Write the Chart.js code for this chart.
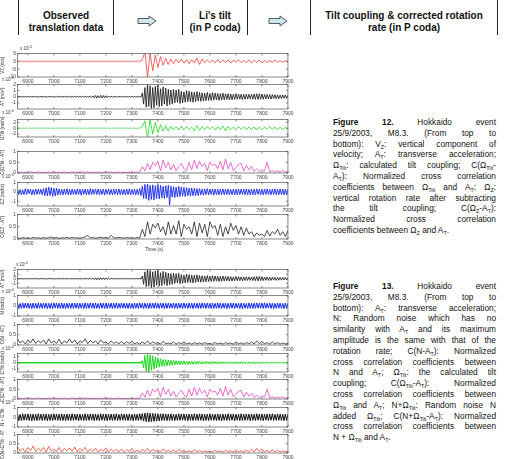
<!DOCTYPE html>
<html><head><meta charset="utf-8">
<script src="https://cdn.jsdelivr.net/npm/chart.js@4.4.1/dist/chart.umd.min.js"></script>
<style>
html,body{margin:0;padding:0;background:#fff;width:512px;height:459px;overflow:hidden;position:relative;font-family:"Liberation Sans",Arial,sans-serif;}
.hbox{position:absolute;top:0;height:35px;border-left:1px solid #222;border-right:1px solid #222;text-align:center;font-weight:bold;font-size:10px;line-height:12px;padding-top:10px;box-sizing:border-box;color:#111;white-space:nowrap}
.cap{position:absolute;left:333px;width:163px;font-size:8.3px;line-height:10.8px;color:#111}
.cap div{text-align:justify;text-align-last:justify;height:10.8px}
.cap div.last{text-align:left;text-align-last:left}
sub{font-size:65%;vertical-align:-1.5px;line-height:0}
.ex{position:absolute;font-size:4.5px;color:#333;white-space:nowrap}
.ex sup{font-size:80%;vertical-align:2px;line-height:0}
.tl{position:absolute;font-size:5px;color:#333;white-space:nowrap}
</style></head><body>
<div class="hbox" style="left:18px;width:96px">Observed<br>translation data</div>
<div class="hbox" style="left:182px;width:66px">Li's tilt<br>(in P coda)</div>
<div class="hbox" style="left:310px;width:188px">Tilt coupling &amp; corrected rotation<br>rate (in P coda)</div>
<svg style="position:absolute;left:137px;top:15px" width="21" height="12"><polygon points="1,3.5 12,3.5 12,1 19,6 12,11 12,8.5 1,8.5" fill="#cde6ee" stroke="#333" stroke-width="0.8"/></svg>
<svg style="position:absolute;left:268px;top:15px" width="21" height="12"><polygon points="1,3.5 12,3.5 12,1 19,6 12,11 12,8.5 1,8.5" fill="#cde6ee" stroke="#333" stroke-width="0.8"/></svg>

<div class="cap" style="top:117px">
<div><b>Figure 12.</b> Hokkaido event</div>
<div>25/9/2003, M8.3. (From top to</div>
<div>bottom): V<sub>Z</sub>: vertical component of</div>
<div>velocity; A<sub>T</sub>: transverse acceleration;</div>
<div>Ω<sub>Tilt</sub>: calculated tilt coupling; C(Ω<sub>Tilt</sub>-</div>
<div>A<sub>T</sub>): Normalized cross correlation</div>
<div>coefficients between Ω<sub>Tilt</sub> and A<sub>T</sub>; Ω<sub>Z</sub>:</div>
<div>vertical rotation rate after subtracting</div>
<div>the tilt coupling; C(Ω<sub>Z</sub>-A<sub>T</sub>):</div>
<div>Normalized cross correlation</div>
<div class="last">coefficients between Ω<sub>Z</sub> and A<sub>T</sub>.</div>
</div>

<div class="cap" style="top:281px">
<div><b>Figure 13.</b> Hokkaido event</div>
<div>25/9/2003, M8.3. (From top to</div>
<div>bottom): A<sub>T</sub>: transverse acceleration;</div>
<div>N: Random noise which has no</div>
<div>similarity with A<sub>T</sub> and its maximum</div>
<div>amplitude is the same with that of the</div>
<div>rotation rate; C(N-A<sub>T</sub>): Normalized</div>
<div>cross correlation coefficients between</div>
<div>N and A<sub>T</sub>; Ω<sub>Tilt</sub>: the calculated tilt</div>
<div>coupling; C(Ω<sub>Tilt</sub>-A<sub>T</sub>): Normalized</div>
<div>cross correlation coefficients between</div>
<div>Ω<sub>Tilt</sub> and A<sub>T</sub>; N+Ω<sub>Tilt</sub>: Random noise N</div>
<div>added Ω<sub>Tilt</sub>; C(N+Ω<sub>Tilt</sub>-A<sub>T</sub>): Normalized</div>
<div>cross correlation coefficients between</div>
<div class="last">N + Ω<sub>Tilt</sub> and A<sub>T</sub>.</div>
</div>

<div class="ex" style="left:20px;top:46px">x 10<sup>-4</sup></div>
<div class="ex" style="left:2px;top:77px">x 10<sup>-4</sup></div>
<div class="ex" style="left:2px;top:110px">x 10<sup>-6</sup></div>
<div class="ex" style="left:2px;top:174px">x 10<sup>-6</sup></div>
<div class="ex" style="left:16px;top:262px">x 10<sup>-4</sup></div>
<div class="ex" style="left:2px;top:289px">x 10<sup>-6</sup></div>
<div class="ex" style="left:2px;top:346px">x 10<sup>-6</sup></div>
<div class="ex" style="left:2px;top:400px">x 10<sup>-6</sup></div>
<div class="tl" style="left:145px;top:246px">Time (s)</div>

<script>
// ---- data: start time 6860 s; coarse series every 10 s, dense series every 5 s ----
const T0 = 6860, DT = 10, DT_FINE = 5;
const xTicks = [6900,7000,7100,7200,7300,7400,7500,7600,7700,7800,7900];

// V_Z (x1e-4 m/s), 10 s
const vz = [
0,0,0,0,0,0,0,0,0,0,
0,0,0,0,0,0,0,0,0,0,
0,0,0,0,0,0,0,0,0,0,
0,0,0,0,0,0,0,0,0,0,
0,0,0,0,0,0,0,0,1,6,
-10,5,-6,4,-4,3,-2.5,2,-2,1.5,
-1.5,1.2,-1,1.5,-1.2,1,-1.5,1,-1,2,
-2,1.5,-1,1,-0.8,0.8,-1,1.2,-1,0.8,
-0.8,1,-1.2,0.8,-0.6,1,-0.8,0.6,-0.8,1,
-1,0.8,-0.6,0.8,-1,0.6,-0.8,0.6,-0.5,0.8,
-0.6,0.5,-0.6,0.4,-0.3];

// A_T (x1e-4 m/s^2), 5 s
const aT = [
0.05,-0.04,0.06,-0.05,0.03,-0.06,0.05,-0.04,0.06,-0.05,0.04,-0.06,0.05,-0.03,0.06,-0.05,0.04,-0.05,0.06,-0.04,
0.04,-0.06,0.05,-0.05,0.06,-0.04,0.05,-0.06,0.04,-0.05,0.06,-0.05,0.04,-0.06,0.05,-0.04,0.06,-0.05,0.05,-0.06,
0.06,-0.05,0.04,-0.06,0.05,-0.05,0.07,-0.06,0.05,-0.07,0.06,-0.05,0.08,-0.07,0.06,-0.08,0.1,-0.12,0.15,-0.18,
0.2,-0.22,0.18,-0.2,0.22,-0.19,0.2,-0.18,0.16,-0.15,0.12,-0.1,0.08,-0.07,0.06,-0.05,0.05,-0.06,0.05,-0.04,
0.05,-0.05,0.06,-0.04,0.05,-0.06,0.05,-0.05,0.06,-0.05,0.04,-0.06,0.05,-0.05,0.06,-0.08,0.6,-1.2,1.5,-1.7,
2,-1.6,1.8,-1.9,1.5,-1.8,1.7,-1.4,1.9,-1.6,1.3,-1.5,1.6,-1.2,1.4,-1.5,1.2,-1.3,1.1,-1.2,
1.2,-1,1.1,-0.9,1.2,-1.1,0.9,-1,0.8,-0.9,1,-0.8,0.9,-0.85,0.8,-0.9,0.75,-0.8,0.85,-0.7,
0.7,-0.75,0.65,-0.7,0.6,-0.65,0.7,-0.6,0.55,-0.6,0.65,-0.55,0.6,-0.5,0.55,-0.6,0.5,-0.55,0.6,-0.5,
0.5,-0.45,0.5,-0.5,0.45,-0.5,0.4,-0.45,0.5,-0.4,0.45,-0.4,0.4,-0.45,0.38,-0.4,0.42,-0.38,0.4,-0.35,
0.38,-0.4,0.45,-0.42,0.48,-0.45,0.5,-0.42,0.45,-0.4,0.38,-0.35,0.4,-0.36,0.34,-0.38,0.35,-0.3,0.32,-0.34,
0.3,-0.32,0.28,-0.3,0.3,-0.26,0.28,-0.25,0.2];

// Omega_Tilt (Fig. 12, x1e-6 rad/s), 10 s
const tilt = [
0,0,0,0,0,0,0,0,0,0,
0,0,0,0,0,0,0,0,0,0,
0,0,0,0,0,0,0,0,0,0,
0,0,0,0,0,0,0,0,0,0,
0,0,0,0,0,0,0,0,0.5,2.5,
-3.5,3,-2,2,-1.5,1.2,-1,0.8,-1,0.7,
-0.6,0.5,-0.6,0.7,-0.5,0.6,-0.5,0.4,-0.8,0.9,
-0.7,0.5,-0.5,0.6,-0.4,0.5,-0.6,0.5,-0.4,0.8,
-0.9,0.6,-0.5,0.4,-0.5,0.6,-0.4,0.5,-0.5,0.4,
-0.4,0.5,-0.6,0.4,-0.5,0.4,-0.3,0.5,-0.4,0.4,
-0.4,0.3,-0.4,0.3,-0.2];

// Omega_Tilt (Fig. 13, x1e-6 rad/s), 5 s
const tilt13 = [
0,0,0,0,0,0,0,0,0,0,0,0,0,0,0,0,0,0,0,0,
0,0,0,0,0,0,0,0,0,0,0,0,0,0,0,0,0,0,0,0,
0,0,0,0,0,0,0,0,0,0,0,0,0,0,0,0,0,0,0,0,
0,0,0,0,0,0,0,0,0,0,0,0,0,0,0,0,0,0,0,0,
0,0,0,0,0,0,0,0,0,0,0,0,0,0,0,0,0.3,-0.8,1.2,-1.4,
1.5,-1.6,1.3,-1.2,1.1,-1,0.9,-0.85,0.8,-0.7,0.65,-0.6,0.55,-0.6,0.5,-0.5,0.45,-0.45,0.4,-0.42,
0.38,-0.36,0.35,-0.34,0.32,-0.3,0.3,-0.28,0.3,-0.28,0.26,-0.27,0.25,-0.26,0.24,-0.25,0.23,-0.24,0.22,-0.22,
0.22,-0.2,0.21,-0.2,0.2,-0.19,0.2,-0.18,0.19,-0.2,0.18,-0.17,0.18,-0.18,0.17,-0.16,0.17,-0.18,0.16,-0.16,
0.16,-0.15,0.16,-0.15,0.15,-0.16,0.15,-0.14,0.15,-0.15,0.14,-0.15,0.14,-0.14,0.15,-0.13,0.14,-0.14,0.13,-0.14,
0.13,-0.14,0.13,-0.13,0.14,-0.12,0.13,-0.13,0.12,-0.13,0.12,-0.12,0.13,-0.12,0.12,-0.11,0.12,-0.12,0.11,-0.12,
0.11,-0.11,0.1,-0.11,0.1,-0.1,0.1,-0.1,0.1];

// C(Omega_Tilt - A_T), 10 s
const cTilt = [
0.02,0.05,0.01,0.04,0.02,0.06,0.01,0.03,0.05,0.02,
0.04,0.01,0.05,0.02,0.06,0.01,0.04,0.02,0.05,0.01,
0.03,0.06,0.02,0.04,0.01,0.05,0.02,0.06,0.01,0.04,
0.02,0.05,0.01,0.04,0.06,0.02,0.05,0.01,0.03,0.05,
0.02,0.04,0.01,0.05,0.02,0.04,0.03,0.05,0.3,0.1,
0.45,0.15,0.5,0.35,0.55,0.1,0.6,0.25,0.5,0.15,
0.4,0.1,0.3,0.45,0.2,0.1,0.5,0.15,0.6,0.2,
0.55,0.3,0.45,0.1,0.5,0.35,0.4,0.2,0.55,0.15,
0.65,0.2,0.5,0.1,0.25,0.4,0.45,0.1,0.35,0.15,
0.3,0.08,0.2,0.05,0.15,0.1,0.5,0.05,0.12,0.04,
0.1,0.05,0.12,0.03,0.08];

// Omega_Z (x1e-6 rad/s), 5 s
const omZ = [
0.3,-0.28,0.25,-0.32,0.22,-0.3,0.35,-0.26,0.3,-0.2,0.28,-0.34,0.24,-0.3,0.32,-0.27,0.3,-0.25,0.28,-0.3,
0.35,-0.4,0.45,-0.42,0.5,-0.38,0.45,-0.48,0.4,-0.42,0.38,-0.35,0.32,-0.3,0.28,-0.32,0.3,-0.28,0.35,-0.3,
0.28,-0.32,0.3,-0.26,0.25,-0.3,0.32,-0.28,0.3,-0.35,0.28,-0.25,0.3,-0.32,0.26,-0.3,0.35,-0.28,0.3,-0.26,
0.3,-0.27,0.32,-0.3,0.26,-0.28,0.3,-0.34,0.28,-0.25,0.3,-0.3,0.27,-0.32,0.3,-0.26,0.28,-0.3,0.32,-0.28,
0.28,-0.3,0.26,-0.32,0.3,-0.28,0.32,-0.3,0.27,-0.28,0.3,-0.32,0.28,-0.3,0.35,-0.4,0.6,-0.7,0.8,-0.75,
0.85,-0.9,0.7,-0.8,0.75,-0.85,0.65,-0.7,0.8,-0.75,0.7,-0.65,0.6,-0.7,0.65,-0.6,0.7,-1.4,0.6,-0.55,
0.55,-0.6,0.5,-0.55,0.6,-0.5,0.5,-0.45,0.48,-0.5,0.45,-0.42,0.4,-0.45,0.42,-0.4,0.38,-0.4,0.36,-0.38,
0.35,-0.32,0.3,-0.35,0.33,-0.3,0.35,-0.32,0.3,-0.28,0.32,-0.35,0.3,-0.3,0.28,-0.32,0.3,-0.28,0.32,-0.3,
0.3,-0.28,0.32,-0.3,0.26,-0.3,0.3,-0.32,0.28,-0.3,0.32,-0.28,0.3,-0.26,0.28,-0.3,0.32,-0.3,0.28,-0.3,
0.3,-0.32,0.28,-0.3,0.32,-0.27,0.3,-0.3,0.28,-0.32,0.3,-0.28,0.32,-0.3,0.26,-0.3,0.3,-0.28,0.32,-0.3,
0.28,-0.3,0.32,-0.28,0.3,-0.3,0.28,-0.32,0.3];

// C(Omega_Z - A_T), 10 s
const cZ = [
0.05,0.02,0.06,0.03,0.05,0.02,0.07,0.03,0.05,0.02,
0.06,0.03,0.05,0.08,0.03,0.06,0.02,0.05,0.04,0.07,
0.03,0.06,0.04,0.05,0.02,0.06,0.08,0.15,0.04,0.06,
0.03,0.05,0.07,0.04,0.06,0.03,0.15,0.05,0.04,0.06,
0.05,0.03,0.06,0.04,0.05,0.03,0.06,0.04,0.4,0.1,
0.7,0.2,0.6,0.45,0.65,0.3,0.5,0.15,0.7,0.2,
0.55,0.2,0.75,0.1,0.6,0.4,0.5,0.2,0.7,0.1,
0.65,0.25,0.6,0.1,0.7,0.45,0.55,0.15,0.6,0.1,
0.5,0.2,0.65,0.35,0.55,0.2,0.5,0.15,0.45,0.2,
0.3,0.1,0.25,0.15,0.2,0.1,0.35,0.12,0.3,0.2,
0.4,0.15,0.3,0.1,0.35];

// N random noise (x1e-6 rad/s), 5 s
const noiseN = [
0.25,-0.27,0.22,-0.26,0.28,-0.24,0.26,-0.23,0.27,-0.26,0.24,-0.28,0.26,-0.25,0.23,-0.27,0.28,-0.24,0.25,-0.26,
0.27,-0.24,0.26,-0.28,0.23,-0.26,0.25,-0.27,0.28,-0.23,0.26,-0.25,0.24,-0.27,0.27,-0.26,0.23,-0.28,0.26,-0.24,
0.24,-0.26,0.28,-0.25,0.26,-0.23,0.27,-0.28,0.25,-0.24,0.23,-0.27,0.28,-0.26,0.24,-0.25,0.27,-0.23,0.26,-0.28,
0.26,-0.25,0.23,-0.27,0.28,-0.24,0.25,-0.26,0.27,-0.28,0.24,-0.23,0.26,-0.27,0.25,-0.24,0.28,-0.26,0.23,-0.25,
0.28,-0.23,0.25,-0.26,0.24,-0.27,0.26,-0.25,0.23,-0.28,0.27,-0.24,0.25,-0.26,0.28,-0.23,0.24,-0.27,0.26,-0.25,
0.23,-0.28,0.27,-0.24,0.25,-0.26,0.28,-0.25,0.24,-0.27,0.26,-0.23,0.25,-0.28,0.24,-0.26,0.27,-0.25,0.23,-0.24,
0.27,-0.25,0.24,-0.28,0.26,-0.23,0.25,-0.27,0.28,-0.24,0.23,-0.26,0.27,-0.25,0.26,-0.28,0.24,-0.23,0.25,-0.27,
0.25,-0.26,0.28,-0.23,0.24,-0.27,0.26,-0.24,0.25,-0.28,0.27,-0.26,0.23,-0.25,0.28,-0.24,0.26,-0.27,0.24,-0.23,
0.26,-0.28,0.23,-0.25,0.27,-0.24,0.28,-0.26,0.25,-0.23,0.24,-0.27,0.26,-0.28,0.25,-0.24,0.23,-0.26,0.28,-0.25,
0.24,-0.27,0.26,-0.25,0.28,-0.23,0.25,-0.24,0.27,-0.26,0.28,-0.25,0.24,-0.23,0.26,-0.27,0.25,-0.28,0.23,-0.26,
0.27,-0.24,0.25,-0.26,0.23,-0.28,0.26,-0.25,0.24];

// C(N - A_T), 10 s
const cN = [
0.3,0.1,0.2,0.05,0.25,0.1,0.3,0.08,0.2,0.1,
0.25,0.05,0.3,0.1,0.2,0.08,0.28,0.05,0.2,0.1,
0.3,0.1,0.25,0.05,0.2,0.12,0.3,0.06,0.22,0.1,
0.2,0.05,0.25,0.1,0.15,0.05,0.2,0.08,0.15,0.05,
0.18,0.05,0.15,0.08,0.2,0.05,0.12,0.04,0.15,0.06,
0.2,0.05,0.15,0.08,0.12,0.04,0.18,0.06,0.1,0.05,
0.15,0.04,0.12,0.06,0.15,0.05,0.1,0.04,0.12,0.05,
0.1,0.04,0.12,0.05,0.08,0.03,0.12,0.05,0.1,0.04,
0.12,0.05,0.1,0.04,0.15,0.05,0.1,0.04,0.12,0.05,
0.15,0.05,0.2,0.06,0.18,0.05,0.12,0.04,0.15,0.05,
0.12,0.04,0.1,0.05,0.08];

// N + Omega_Tilt (x1e-6 rad/s), 5 s
const nPlusTilt = [
0.32,-0.35,0.3,-0.33,0.36,-0.31,0.34,-0.3,0.35,-0.33,0.31,-0.36,0.33,-0.32,0.3,-0.34,0.36,-0.31,0.32,-0.33,
0.34,-0.31,0.33,-0.36,0.3,-0.33,0.32,-0.34,0.36,-0.3,0.33,-0.32,0.31,-0.34,0.35,-0.33,0.3,-0.36,0.33,-0.31,
0.31,-0.33,0.36,-0.32,0.33,-0.3,0.34,-0.36,0.32,-0.31,0.3,-0.34,0.36,-0.33,0.31,-0.32,0.34,-0.3,0.33,-0.36,
0.33,-0.32,0.3,-0.34,0.36,-0.31,0.32,-0.33,0.34,-0.36,0.31,-0.3,0.33,-0.34,0.32,-0.31,0.36,-0.33,0.3,-0.32,
0.36,-0.3,0.32,-0.33,0.31,-0.34,0.33,-0.32,0.3,-0.36,0.34,-0.31,0.32,-0.33,0.36,-0.3,0.38,-0.4,0.42,-0.45,
0.45,-0.48,0.42,-0.44,0.4,-0.42,0.38,-0.4,0.36,-0.38,0.35,-0.34,0.36,-0.33,0.34,-0.35,0.33,-0.34,0.35,-0.32,
0.32,-0.35,0.3,-0.33,0.36,-0.31,0.34,-0.3,0.35,-0.33,0.31,-0.36,0.33,-0.32,0.3,-0.34,0.36,-0.31,0.32,-0.33,
0.34,-0.31,0.33,-0.36,0.3,-0.33,0.32,-0.34,0.36,-0.3,0.33,-0.32,0.31,-0.34,0.35,-0.33,0.3,-0.36,0.33,-0.31,
0.31,-0.33,0.36,-0.32,0.33,-0.3,0.34,-0.36,0.32,-0.31,0.3,-0.34,0.36,-0.33,0.31,-0.32,0.34,-0.3,0.33,-0.36,
0.33,-0.32,0.3,-0.34,0.36,-0.31,0.32,-0.33,0.34,-0.36,0.31,-0.3,0.33,-0.34,0.32,-0.31,0.36,-0.33,0.3,-0.32,
0.34,-0.31,0.32,-0.33,0.3,-0.36,0.33,-0.32,0.31];

// C(N + Omega_Tilt - A_T), 10 s
const cNTilt = [
0.35,0.1,0.25,0.05,0.3,0.12,0.38,0.08,0.25,0.1,
0.3,0.06,0.35,0.1,0.22,0.08,0.3,0.05,0.25,0.12,
0.28,0.08,0.32,0.06,0.25,0.1,0.3,0.05,0.22,0.1,
0.25,0.06,0.2,0.1,0.28,0.05,0.22,0.08,0.2,0.06,
0.22,0.05,0.18,0.08,0.25,0.06,0.15,0.05,0.2,0.08,
0.25,0.06,0.2,0.1,0.15,0.05,0.22,0.08,0.15,0.06,
0.18,0.05,0.2,0.08,0.15,0.05,0.12,0.06,0.18,0.05,
0.15,0.05,0.12,0.06,0.1,0.04,0.15,0.06,0.12,0.05,
0.15,0.06,0.12,0.05,0.18,0.06,0.12,0.05,0.15,0.06,
0.2,0.06,0.25,0.08,0.22,0.06,0.15,0.05,0.18,0.06,
0.15,0.05,0.12,0.06,0.1];

const ticksVz = [-10,-5,0,5];
const ticksAT = [-1,0,1,2];
const ticksTilt = [-2,0,2];
const ticksUnit = [-1,0,1];
const ticksCorr = [0,0.5,1];

// ---- drawing ----
const boxPlugin = {
  id: 'box',
  afterDatasetsDraw(ch) {
    const {ctx, chartArea: a, scales: {x, y}} = ch;
    ctx.save();
    ctx.strokeStyle = '#555';
    ctx.lineWidth = 0.7;
    ctx.strokeRect(a.left, a.top, a.right - a.left, a.bottom - a.top);
    ctx.beginPath();
    x.ticks.forEach(t => {
      const p = x.getPixelForValue(t.value);
      ctx.moveTo(p, a.bottom); ctx.lineTo(p, a.bottom - 2);
      ctx.moveTo(p, a.top); ctx.lineTo(p, a.top + 2);
    });
    y.ticks.forEach(t => {
      const p = y.getPixelForValue(t.value);
      ctx.moveTo(a.left, p); ctx.lineTo(a.left + 2, p);
      ctx.moveTo(a.right, p); ctx.lineTo(a.right - 2, p);
    });
    ctx.stroke();
    ctx.restore();
  }
};

function panel(top, bottom, series, step, color, lw, ymin, ymax, yticks, title, preColor, preWidth) {
  const c = document.createElement('canvas');
  const H = (bottom - top) + 3 + 9;
  c.width = 295; c.height = H;
  c.style.cssText = `position:absolute;left:0;top:${top - 3}px;width:295px;height:${H}px`;
  document.body.appendChild(c);
  const ds = {
    data: series.map((v, i) => ({x: T0 + i * step, y: v})),
    borderColor: color, borderWidth: lw, pointRadius: 0, tension: 0
  };
  if (preColor) {
    ds.segment = {
      borderColor: ctx => ctx.p1.parsed.x <= 7340 ? preColor : color,
      borderWidth: ctx => ctx.p1.parsed.x <= 7340 ? (preWidth || 1.6) : lw
    };
  }
  new Chart(c, {
    type: 'line',
    data: {datasets: [ds]},
    options: {
      responsive: false, animation: false, events: [],
      layout: {padding: {top: 3, right: 3, left: 0, bottom: 0}},
      plugins: {legend: {display: false}, tooltip: {enabled: false}},
      scales: {
        x: {
          type: 'linear', min: 6860, max: 7900,
          afterBuildTicks: s => { s.ticks = xTicks.map(v => ({value: v})); },
          afterFit: s => { s.height = 9; },
          grid: {display: false, drawTicks: false}, border: {display: false},
          ticks: {font: {size: 5, family: 'Liberation Sans'}, color: '#444', padding: 1.5, maxRotation: 0, autoSkip: false, callback: v => String(v)}
        },
        y: {
          min: ymin, max: ymax,
          afterBuildTicks: s => { s.ticks = yticks.map(v => ({value: v})); },
          afterFit: s => { s.width = 17.5; },
          grid: {display: false, drawTicks: false}, border: {display: false},
          ticks: {font: {size: 5, family: 'Liberation Sans'}, color: '#444', padding: 1.5, autoSkip: false, callback: v => String(v)},
          title: {display: true, text: title, font: {size: 4.5, family: 'Liberation Sans'}, color: '#333', padding: 0}
        }
      }
    },
    plugins: [boxPlugin]
  });
}

// Figure 12
panel(52, 77, vz, DT, '#f03c3c', 0.8, -10, 5, ticksVz, 'VZ (m/s)', '#f6a8a8');
panel(83, 109, aT, DT_FINE, '#111', 0.8, -2, 2, ticksAT, 'AT (m/s²)');
panel(118, 137, tilt, DT, '#1fd81f', 0.8, -3, 3, ticksTilt, 'ΩTilt (rad/s)', '#a6eca6');
panel(150, 173, cTilt, DT, '#e646c8', 0.8, 0, 1, ticksCorr, 'C(ΩTilt - AT)');
panel(181, 206, omZ, DT_FINE, '#1428f0', 0.9, -1.5, 1, ticksUnit, 'ΩZ (rad/s)');
panel(213, 239, cZ, DT, '#222', 0.8, 0, 1, ticksCorr, 'C(ΩZ - AT)');
// Figure 13
panel(268, 288, aT, DT_FINE, '#111', 0.8, -2, 2, ticksAT, 'AT (m/s²)');
panel(294, 316, noiseN, DT_FINE, '#1428f0', 1, -1, 1, ticksUnit, 'N (rad/s)');
panel(323, 345, cN, DT, '#222', 0.8, 0, 1, ticksCorr, 'C(N - AT)');
panel(352, 372, tilt13, DT_FINE, '#1fd81f', 1, -1.5, 1.5, ticksUnit, 'ΩTilt (rad/s)', '#1fd81f', 1.6);
panel(378, 399, cTilt, DT, '#e646c8', 0.8, 0, 1, ticksCorr, 'C(ΩTilt - AT)');
panel(406, 427, nPlusTilt, DT_FINE, '#111', 1, -1, 1, ticksUnit, 'N + ΩTilt');
panel(433, 453, cNTilt, DT, '#e8452e', 0.8, 0, 1, ticksCorr, 'C(N+ΩTilt - AT)');
</script>
</body></html>
